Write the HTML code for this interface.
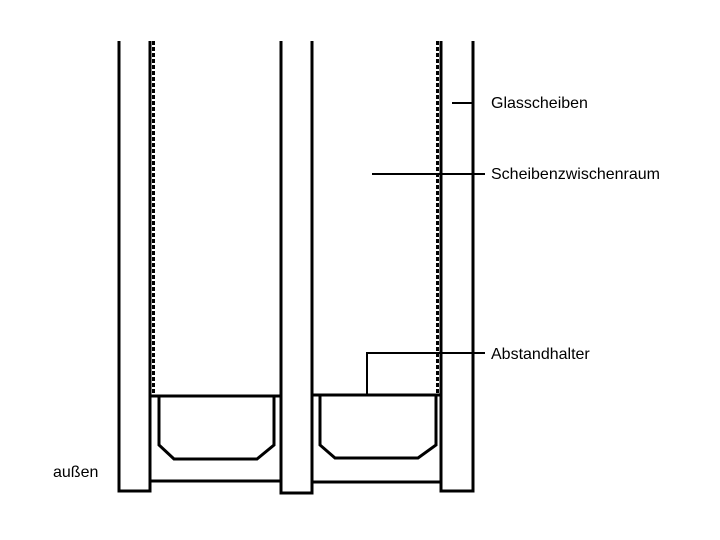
<!DOCTYPE html>
<html><head><style>body{margin:0;background:#fff}</style></head><body>
<svg width="720" height="540" xmlns="http://www.w3.org/2000/svg" style="display:block">
<rect width="720" height="540" fill="#fff"/>
<g stroke="#000" stroke-width="3" fill="none">
<path d="M119,41 V491 H150 V41"/>
<path d="M281,41 V493 H312 V41"/>
<path d="M441,41 V491 H473 V41"/>
<path d="M150,396 H281 M150,481 H281"/>
<path d="M312,395 H441 M312,482 H441"/>
<path d="M159,397 V445 L174,459 H257 L274,445 V397"/>
<path d="M320,396 V445 L335,458 H418 L436,445 V396"/>
<path d="M153.5,41 V396" stroke-dasharray="4,2"/>
<path d="M437.5,41 V395" stroke-dasharray="4,2"/>
</g>
<g stroke="#000" stroke-width="2" fill="none">
<path d="M367,395 V353 H485"/>
<path d="M452,103 H473"/>
<path d="M372,174 H485"/>
</g>
<g font-family="Liberation Sans, sans-serif" font-size="16" fill="#000">
<text x="491" y="108">Glasscheiben</text>
<text x="491" y="179">Scheibenzwischenraum</text>
<text x="491" y="359">Abstandhalter</text>
<text x="53" y="477">außen</text>
</g>
</svg>
</body></html>
